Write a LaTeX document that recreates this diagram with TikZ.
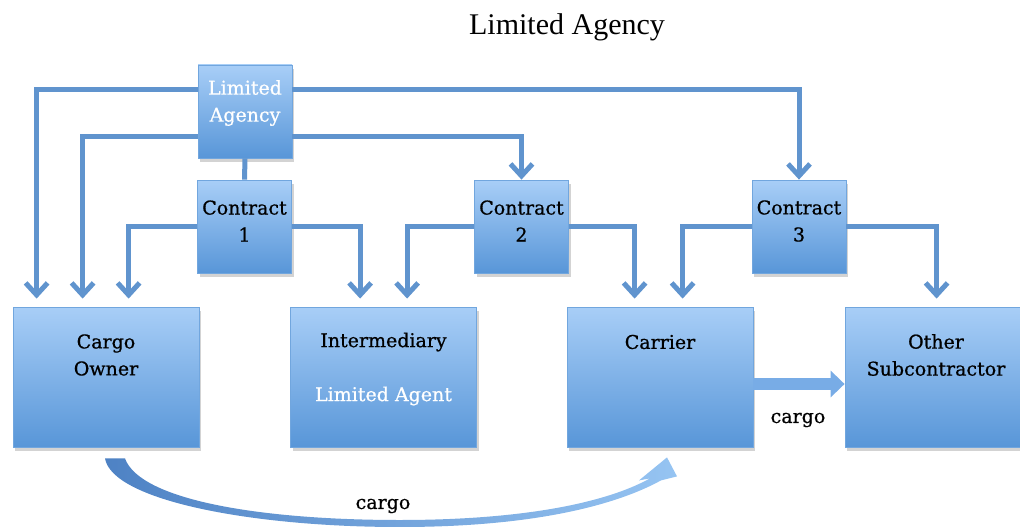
\documentclass[tikz,border=0pt]{standalone}
\usepackage{fontspec}
\setmainfont{DejaVu Serif}
\newfontfamily\boxfont{DejaVu Serif}[FakeBold=0.7]
\newfontfamily\titlefont{Liberation Serif}
\usetikzlibrary{arrows.meta,shadows}
\definecolor{lineblue}{RGB}{96,148,206}
\definecolor{boxtop}{RGB}{168,206,247}
\definecolor{boxbottom}{RGB}{88,150,216}
\definecolor{arrowdark}{RGB}{78,130,196}
\definecolor{arrowlight}{RGB}{150,196,242}
\definecolor{arrowmid}{RGB}{120,172,230}

\begin{document}
\begin{tikzpicture}[x=1pt, y=-1pt,
        party/.style={rectangle, top color=boxtop, bottom color=boxbottom, draw=boxbottom!85, line width=0.8pt,
            drop shadow={opacity=0.35, shadow xshift=2pt, shadow yshift=-4pt},
            minimum width=186pt, minimum height=140pt, inner sep=0pt},
        deal/.style={party, minimum width=94pt, minimum height=93pt},
        boxtext/.style={align=center, font=\boxfont\fontsize{19}{27}\selectfont},
        link/.style={draw=lineblue, line width=5pt},
        linkarrow/.style={link, -{Straight Barb[length=12pt, width=22pt]}},
        downarrow/.style={linkarrow, shorten >=8pt},
        blockarrow/.style={draw=arrowmid, line width=12pt, -{Triangle[length=14pt, width=26pt]}},
        cargoarrow/.style={left color=arrowdark, right color=arrowlight}
    ]
        \useasboundingbox (0,0) rectangle (1020,527);

        % Title
        \node[font=\titlefont\fontsize{30}{36}\selectfont] (title) at (567,27) {Limited Agency};

        % Agency and contracts
        \node[deal] (agency) at (245,111.5) {};
        \node[deal] (con1) at (244.5,226.5) {};
        \node[deal] (con2) at (521.5,226.5) {};
        \node[deal] (con3) at (799,226.5) {};

        \node[boxtext, text=white] (agencytxt) at (245,103) {Limited\\Agency};
        \node[boxtext] (con1txt) at (244.5,221) {Contract\\1};
        \node[boxtext] (con2txt) at (521.5,221) {Contract\\2};
        \node[boxtext] (con3txt) at (799,221) {Contract\\3};

        % Parties
        \node[party] (owner) at (106,377) {};
        \node[party] (inter) at (383.5,377) {};
        \node[party] (carrier) at (660,377) {};
        \node[party, minimum width=175pt] (other) at (932.5,377) {};

        \node[boxtext] (ownertxt) at (106,355) {Cargo\\Owner};
        \node[boxtext] (intertxt) at (383.5,342) {Intermediary};
        \node[boxtext, text=white] (agenttxt) at (383.5,396) {Limited Agent};
        \node[boxtext] (carriertxt) at (660,342) {Carrier};
        \node[boxtext] (othertxt) at (936,355) {Other\\Subcontractor};

        % Lines from the agency
        \draw[downarrow] ([yshift=-25pt]agency.north west) -| ([xshift=24pt]owner.north west);
        \draw[downarrow] ([yshift=22pt]agency.south west) -| ([xshift=70pt]owner.north west);
        \draw[linkarrow] ([yshift=22pt]agency.south east) -| (con2.north);
        \draw[linkarrow] ([yshift=-25pt]agency.north east) -| (con3.north);
        \draw[link] (agency.south) -- (con1.north);

        % Lines from the contracts
        \draw[downarrow] (con1.west) -| ([xshift=116pt]owner.north west);
        \draw[downarrow] (con1.east) -| ([xshift=70pt]inter.north west);
        \draw[downarrow] (con2.west) -| ([xshift=117pt]inter.north west);
        \draw[downarrow] (con2.east) -| ([xshift=68pt]carrier.north west);
        \draw[downarrow] (con3.west) -| ([xshift=116pt]carrier.north west);
        \draw[downarrow] (con3.east) -| ([xshift=92pt]other.north west);

        % Cargo flows
        \draw[blockarrow] ([yshift=-7pt]carrier.east) -- ([yshift=-7pt]other.west);
        \node[boxtext] (cargo2) at (798,420) {cargo};

        \shade[cargoarrow] ([xshift=-1pt,yshift=-11pt]owner.south)
            .. controls (112,500) and (250,527) .. (400,527)
            .. controls (540,527) and (620,503) .. ([xshift=1pt,yshift=-33pt]carrier.south)
            -- ([xshift=17pt,yshift=-29pt]carrier.south)
            -- ([xshift=7pt,yshift=-10pt]carrier.south)
            -- ([xshift=-21pt,yshift=-33pt]carrier.south)
            -- ([xshift=-10pt,yshift=-31pt]carrier.south)
            .. controls (600,506) and (510,520) .. (400,520)
            .. controls (260,520) and (140,500) .. ([xshift=19pt,yshift=-11pt]owner.south)
            -- cycle;
        \node[boxtext] (cargo1) at (383,506) {cargo};

    \end{tikzpicture}
\end{document}
